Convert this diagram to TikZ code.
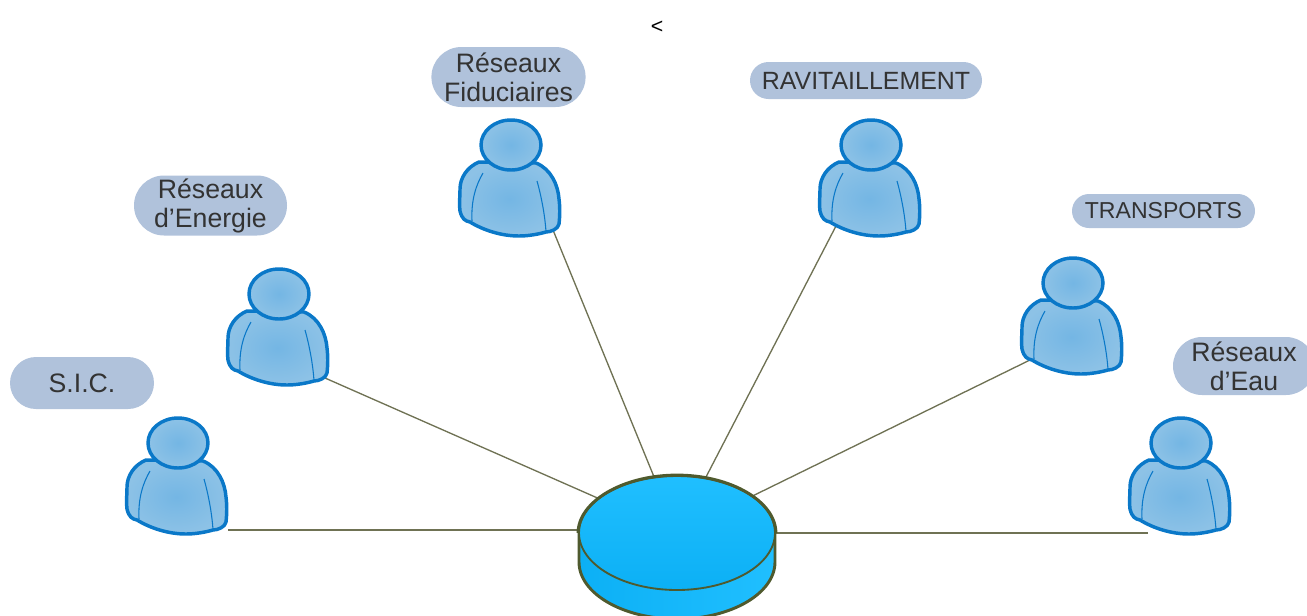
\documentclass[tikz,border=0pt]{standalone}
\usepackage{fontspec}
\setmainfont{Liberation Sans}
\usetikzlibrary{shapes.misc,shapes.geometric}

\definecolor{pillblue}{HTML}{B0C2DB}
\definecolor{personline}{HTML}{0A78C8}
\definecolor{personin}{HTML}{74B6E4}
\definecolor{personout}{HTML}{8DC2E6}
\definecolor{linkgreen}{HTML}{6F7254}
\definecolor{serverline}{HTML}{4F5A2E}
\definecolor{serverlight}{HTML}{20BFFF}
\definecolor{serverdark}{HTML}{0CB0F5}

\tikzset{
    pill/.style={rounded rectangle, fill=pillblue, inner sep=0pt, minimum height=#1*0.75pt, align=center,
        font=\fontsize{20}{21.75}\selectfont, text=black!80},
    link/.style={draw=linkgreen, line width=1pt},
    person/.pic={
        \draw[personline, line width=2.6pt, line join=round, inner color=personin, outer color=personout]
            (-32,17) .. controls (-44,22) and (-51,33) .. (-51,44)
            .. controls (-51,52) and (-52,60) .. (-51,66)
            .. controls (-49,74) and (-46,76) .. (-41,77)
            .. controls (-28,85) and (-10,91) .. (8,91)
            .. controls (18,91) and (28,89) .. (35,87)
            .. controls (40,87) and (47,84) .. (48,79)
            .. controls (49,70) and (49,62) .. (48,54)
            .. controls (47,40) and (40,24) .. (25,18) -- cycle;
        \draw[personline, line width=0.8pt] (-28,28) .. controls (-35,40) and (-40,55) .. (-39,76);
        \draw[personline, line width=0.8pt] (26,36) .. controls (30,50) and (34,70) .. (35,87);
        \draw[personline, line width=2.6pt, inner color=personin, outer color=personout]
            (0,0) ellipse[x radius=30, y radius=25];
    }
}

\begin{document}
\begin{tikzpicture}[x=0.75pt, y=-0.75pt]
    \clip (0,0) rectangle (1307,615);
    \node[font=\fontsize{16}{18}\selectfont] (mark) at (657,27) {<};

    % connector ends
    \coordinate (sicport) at (228,530);
    \coordinate (sicend) at (590,530);
    \coordinate (energyport) at (325,378);
    \coordinate (fidport) at (553,230);
    \coordinate (ravport) at (836,226);
    \coordinate (transport) at (1030,360);
    \coordinate (eauport) at (1148,533);
    \coordinate (hub) at (677,533);

    \draw[link] (sicport) -- (sicend);
    \foreach \port in {energyport,fidport,ravport,transport,eauport}
        \draw[link] (\port) -- (hub);

    % people
    \foreach \name/\x/\y in {sic/178/443, energy/279/294, fid/511/145, rav/871/145, trans/1073/283, eau/1181/443}
        \pic (\name) at (\x,\y) {person};

    % labels
    \node[pill=52, minimum width=144*0.75pt] (siclabel) at (82,383) {S.I.C.};
    \node[pill=60, minimum width=153*0.75pt] (energylabel) at (210.5,205.5) {Réseaux\\d’Energie};
    \node[pill=60, minimum width=153*0.75pt] (fidlabel) at (508.5,77) {Réseaux\\Fiduciaires};
    \node[pill=37, minimum width=232*0.75pt, font=\fontsize{18.7}{21}\selectfont] (ravlabel) at (866,80.5) {RAVITAILLEMENT};
    \node[pill=34, minimum width=183*0.75pt, font=\fontsize{17.3}{20}\selectfont] (translabel) at (1163.5,211) {TRANSPORTS};
    \node[pill=58, minimum width=142*0.75pt] (eaulabel) at (1244,366) {Réseaux\\d’Eau};

    % server
    \draw[serverline, line width=2.2pt, left color=serverdark, right color=serverlight]
        (579,533) -- (579,562) .. controls (579,593.5) and (623,619) .. (677,619)
        .. controls (731,619) and (775,593.5) .. (775,562) -- (775,533) -- cycle;
    \node[ellipse, draw=serverline, line width=1.4pt, inner sep=0pt, minimum width=196*0.75pt, minimum height=114*0.75pt,
        top color=serverlight, bottom color=serverdark] (server) at (677,533) {};
    \draw[serverline, line width=2.2pt] (server.west) .. controls +(0,-31.5) and +(-54,0) .. (server.north)
        .. controls +(54,0) and +(0,-31.5) .. (server.east);
\end{tikzpicture}
\end{document}
